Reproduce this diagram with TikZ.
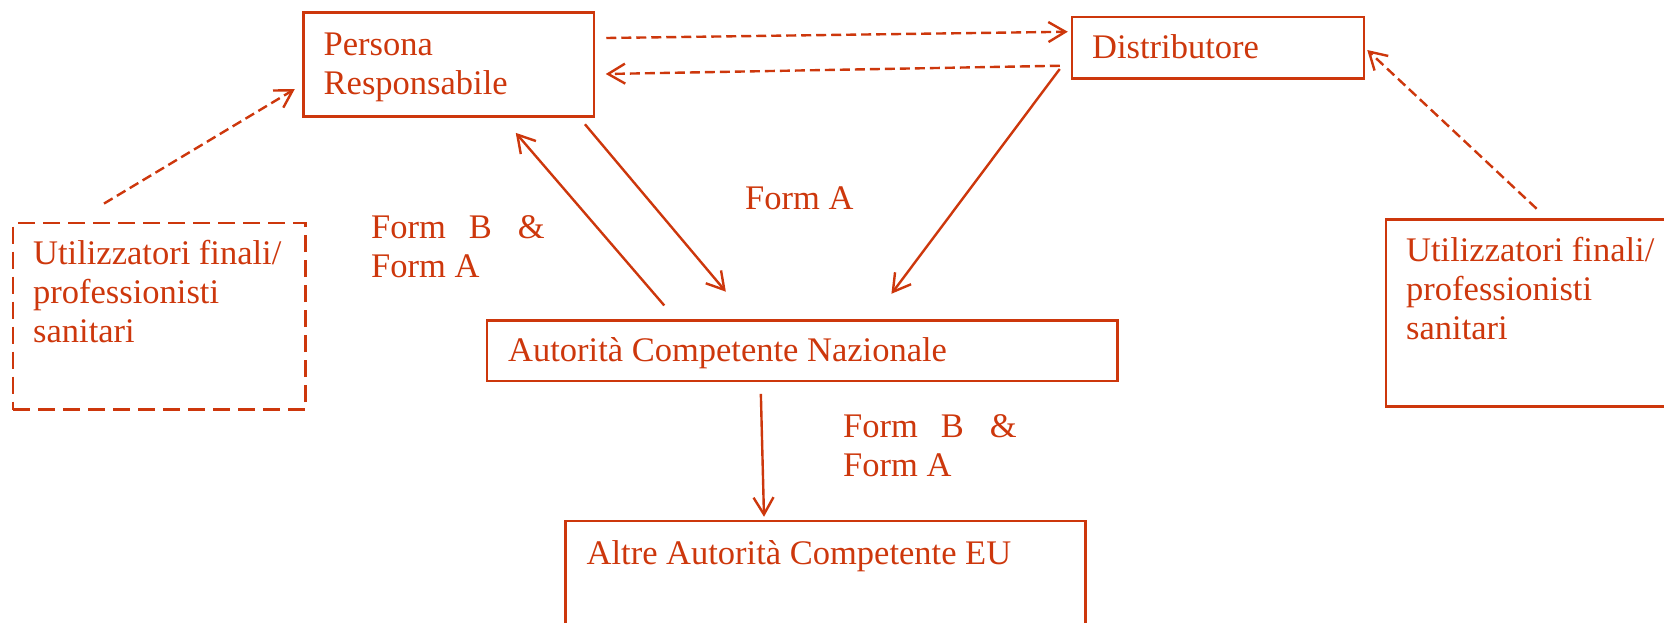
\documentclass[tikz,border=0pt]{standalone}
\usepackage{fontspec}
\setmainfont{Liberation Serif}
\usetikzlibrary{arrows.meta,calc}
\definecolor{ink}{RGB}{205,55,12}
\begin{document}
\begin{tikzpicture}[x=1pt,y=-1pt,
  every node/.style={font=\fontsize{34.5}{39}\selectfont, text=ink},
  box/.style={draw=ink, line width=2.5pt, inner sep=0pt, minimum width=#1},
  txt/.style={anchor=base west, inner sep=0pt, align=left},
  conn/.style={draw=ink, line width=2.4pt, -{Straight Barb[length=17pt,width=20pt]}},
  dconn/.style={conn, dash pattern=on 10pt off 5pt},
  dbox/.style={dash pattern=on 17pt off 8pt}
]
\useasboundingbox (0,0) rectangle (1664,622);
\clip (0,0) rectangle (1664,622);

% boxes
\node[box=290.5pt, minimum height=104pt] (pr) at (448.75,64.7) {};
\node[box=292pt, minimum height=61.5pt] (di) at (1218,47.75) {};
\node[box=292.5pt, minimum height=186.5pt, dbox] (lu) at (159.25,316.25) {};
\node[box=314pt, minimum height=186.7pt] (ru) at (1543,313) {};
\node[box=630.5pt, minimum height=60.5pt] (acn) at (802.25,350.75) {};
\node[box=520pt, minimum height=119pt] (ae) at (825.6,580.5) {};

% texts (base = last line's baseline)
\node[txt] (prt) at (323.5,94) {Persona\\Responsabile};
\node[txt] (dit) at (1092,58) {Distributore};
\node[txt] (lut) at (33,342) {Utilizzatori finali/\\professionisti\\sanitari};
\node[txt] (rut) at (1406,339.5) {Utilizzatori finali/\\professionisti\\sanitari};
\node[txt] (acnt) at (508,361) {Autorità Competente Nazionale};
\node[txt] (aet) at (586.5,564.5) {Altre Autorità Competente EU};

% labels
\node[txt] (l1) at (745,209) {Form A};
\node[txt] (l2) at (371,277) {Form\hspace{23pt}B\hspace{26pt}\&\\Form A};
\node[txt] (l3) at (843,476) {Form\hspace{23pt}B\hspace{26pt}\&\\Form A};

% connectors
\draw[dconn] ($(pr.east)+(11,-26.7)$) -- ($(di.west)+(-3,-16)$);
\draw[dconn] ($(di.west)+(-11,18)$) -- ($(pr.east)+(10.5,9.3)$);
\draw[conn] ($(pr.south east)+(-10.3,6.3)$) -- ($(acn.north)+(-76.4,-27.6)$);
\draw[conn] ($(acn.north)+(-138,-13.8)$) -- ($(pr.south)+(67,14.9)$);
\draw[conn] ($(di.west)+(-11,21.25)$) -- ($(acn.north)+(89.2,-25.5)$);
\draw[conn] ($(acn.south)+(-41.4,11.6)$) -- ($(ae.north)+(-61.6,-3)$);
\draw[dconn] ($(lu.north)+(-55.25,-18.2)$) -- ($(pr.west)+(-7.5,24.4)$);
\draw[dconn] ($(ru.north)+(-6.4,-9.7)$) -- ($(di.east)+(2,2.25)$);
\end{tikzpicture}
\end{document}
